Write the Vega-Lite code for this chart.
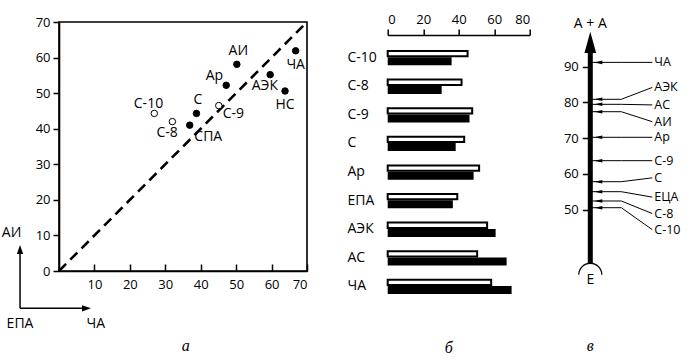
{
  "$schema": "https://vega.github.io/schema/vega-lite/v6.json",
  "background": "white",
  "padding": {"left": 0, "top": 13, "right": 0, "bottom": 0},
  "bounds": "flush",
  "spacing": 80.7,
  "config": {
    "view": {"stroke": null},
    "font": "Open Sans",
    "axis": {"labelFont": "Open Sans", "labelFontSize": 13, "labelColor": "black", "domainColor": "black", "tickColor": "black", "domainWidth": 1.6, "tickWidth": 1.5, "grid": false, "labelOverlap": false, "labelBound": false},
    "text": {"font": "Open Sans", "fontSize": 14, "color": "black"}
  },
  "datasets": {
    "pts": [
      {"name": "АИ", "x": 50.2, "y": 58.1, "kind": "filled", "pos": "top"},
      {"name": "ЧА", "x": 66.8, "y": 61.9, "kind": "filled", "pos": "bottom"},
      {"name": "Ар", "x": 47.2, "y": 52.2, "kind": "filled", "pos": "topleft"},
      {"name": "АЭК", "x": 59.6, "y": 55.2, "kind": "filled", "pos": "bottomleft"},
      {"name": "НС", "x": 63.8, "y": 50.6, "kind": "filled", "pos": "bottom"},
      {"name": "С", "x": 38.8, "y": 44.3, "kind": "filled", "pos": "top"},
      {"name": "С-9", "x": 45.1, "y": 46.5, "kind": "open", "pos": "right"},
      {"name": "С-10", "x": 26.9, "y": 44.3, "kind": "open", "pos": "topleft"},
      {"name": "С-8", "x": 32.0, "y": 42.0, "kind": "open", "pos": "bottomleft"},
      {"name": "СПА", "x": 36.9, "y": 41.0, "kind": "filled", "pos": "bottomright"}
    ],
    "diag": [{"x": 0, "y": 0}, {"x": 70, "y": 70}],
    "arrows": [
      {"x": -11, "y": -10.5, "x2": -11, "y2": 6.0},
      {"x": -11, "y": -10.5, "x2": 7.8, "y2": -10.5}
    ],
    "heads": [
      {"x": -11, "y": 6.04, "dir": "up"},
      {"x": 7.76, "y": -10.5, "dir": "right"}
    ],
    "corner": [
      {"t": "АИ", "x": -13.4, "y": 10.6},
      {"t": "ЕПА", "x": -11, "y": -14.9},
      {"t": "ЧА", "x": 10.4, "y": -14.9}
    ],
    "capA": [{"t": "а", "x": 35.8, "y": -21.1}],
    "bars": [
      {"name": "С-10", "white": 45.0, "black": 36.0},
      {"name": "С-8", "white": 41.6, "black": 30.4},
      {"name": "С-9", "white": 47.6, "black": 46.1},
      {"name": "С", "white": 43.1, "black": 38.3},
      {"name": "Ар", "white": 51.5, "black": 48.4},
      {"name": "ЕПА", "white": 39.2, "black": 36.7},
      {"name": "АЭК", "white": 56.0, "black": 60.8},
      {"name": "АС", "white": 50.4, "black": 67.0},
      {"name": "ЧА", "white": 58.3, "black": 69.8}
    ],
    "leaders": [
      {"name": "ЧА", "v": 91.2, "lv": 91.2},
      {"name": "АЭК", "v": 80.87, "lv": 84.2},
      {"name": "АС", "v": 79.47, "lv": 79.3},
      {"name": "АИ", "v": 77.4, "lv": 74.6},
      {"name": "Ар", "v": 70.24, "lv": 70.24},
      {"name": "С-9", "v": 63.7, "lv": 63.7},
      {"name": "С", "v": 57.82, "lv": 58.9},
      {"name": "ЕЦА", "v": 55.02, "lv": 53.5},
      {"name": "С-8", "v": 52.42, "lv": 48.9},
      {"name": "С-10", "v": 50.54, "lv": 44.4}
    ],
    "cmarks": [
      {"t": "А + А", "x": 0, "y": 101.94},
      {"t": "Е", "x": 0, "y": 30.31}
    ],
    "capC": [{"t": "в", "x": 0, "y": 11.85}]
  },
  "hconcat": [
    {
      "width": 248,
      "height": 249,
      "view": {"stroke": "black", "strokeWidth": 1.6},
      "layer": [
        {
          "data": {"name": "diag"},
          "mark": {"type": "line", "color": "black", "strokeWidth": 2.6, "strokeDash": [10, 6]},
          "encoding": {
            "x": {"field": "x", "type": "quantitative", "scale": {"domain": [0, 70], "nice": false, "zero": false},
                  "axis": {"orient": "bottom", "values": [10, 20, 30, 40, 50, 60, 70], "tickCount": 20, "tickSize": -7, "labelPadding": 14, "labelOverlap": false, "title": null}},
            "y": {"field": "y", "type": "quantitative", "scale": {"domain": [0, 70], "nice": false, "zero": false},
                  "axis": {"values": [0, 10, 20, 30, 40, 50, 60, 70], "tickCount": 20, "tickSize": 6, "labelPadding": 3, "labelOverlap": false, "title": null}}
          }
        },
        {
          "data": {"name": "pts"},
          "mark": {"type": "point", "filled": true, "size": 42, "stroke": "black", "strokeWidth": 1, "opacity": 1},
          "encoding": {
            "x": {"field": "x", "type": "quantitative"},
            "y": {"field": "y", "type": "quantitative"},
            "fill": {"field": "kind", "type": "nominal", "scale": {"domain": ["filled", "open"], "range": ["black", "white"]}, "legend": null}
          }
        },
        {
          "data": {"name": "pts"},
          "transform": [{"filter": "datum.pos === 'top'"}],
          "mark": {"type": "text", "dx": 1.5, "dy": -13, "align": "center", "baseline": "middle"},
          "encoding": {"x": {"field": "x", "type": "quantitative"}, "y": {"field": "y", "type": "quantitative"}, "text": {"field": "name"}}
        },
        {
          "data": {"name": "pts"},
          "transform": [{"filter": "datum.pos === 'bottom'"}],
          "mark": {"type": "text", "dx": 0, "dy": 14, "align": "center", "baseline": "middle"},
          "encoding": {"x": {"field": "x", "type": "quantitative"}, "y": {"field": "y", "type": "quantitative"}, "text": {"field": "name"}}
        },
        {
          "data": {"name": "pts"},
          "transform": [{"filter": "datum.pos === 'bottomleft'"}],
          "mark": {"type": "text", "dx": -5.3, "dy": 11.5, "align": "center", "baseline": "middle"},
          "encoding": {"x": {"field": "x", "type": "quantitative"}, "y": {"field": "y", "type": "quantitative"}, "text": {"field": "name"}}
        },
        {
          "data": {"name": "pts"},
          "transform": [{"filter": "datum.pos === 'topleft'"}],
          "mark": {"type": "text", "dx": -20.5, "dy": -9.6, "align": "left", "baseline": "middle"},
          "encoding": {"x": {"field": "x", "type": "quantitative"}, "y": {"field": "y", "type": "quantitative"}, "text": {"field": "name"}}
        },
        {
          "data": {"name": "pts"},
          "transform": [{"filter": "datum.pos === 'right'"}],
          "mark": {"type": "text", "dx": 4, "dy": 8, "align": "left", "baseline": "middle"},
          "encoding": {"x": {"field": "x", "type": "quantitative"}, "y": {"field": "y", "type": "quantitative"}, "text": {"field": "name"}}
        },
        {
          "data": {"name": "pts"},
          "transform": [{"filter": "datum.pos === 'bottomright'"}],
          "mark": {"type": "text", "dx": 4.6, "dy": 12.3, "align": "left", "baseline": "middle"},
          "encoding": {"x": {"field": "x", "type": "quantitative"}, "y": {"field": "y", "type": "quantitative"}, "text": {"field": "name"}}
        },
        {
          "data": {"name": "arrows"},
          "mark": {"type": "rule", "color": "black", "strokeWidth": 1.5},
          "encoding": {
            "x": {"field": "x", "type": "quantitative"}, "y": {"field": "y", "type": "quantitative"},
            "x2": {"field": "x2"}, "y2": {"field": "y2"}
          }
        },
        {
          "data": {"name": "heads"},
          "mark": {"type": "point", "filled": true, "size": 81, "color": "black", "opacity": 1},
          "encoding": {
            "x": {"field": "x", "type": "quantitative"}, "y": {"field": "y", "type": "quantitative"},
            "shape": {"field": "dir", "type": "nominal", "scale": {"domain": ["up", "right"], "range": ["M0,-1L0.7,1L-0.7,1Z", "M1,0L-1,0.7L-1,-0.7Z"]}, "legend": null}
          }
        },
        {
          "data": {"name": "corner"},
          "mark": {"type": "text", "align": "center", "baseline": "middle"},
          "encoding": {"x": {"field": "x", "type": "quantitative"}, "y": {"field": "y", "type": "quantitative"}, "text": {"field": "t"}}
        },
        {
          "data": {"name": "capA"},
          "mark": {"type": "text", "align": "center", "baseline": "middle", "font": "Liberation Serif", "fontStyle": "italic", "fontSize": 16},
          "encoding": {"x": {"field": "x", "type": "quantitative"}, "y": {"field": "y", "type": "quantitative"}, "text": {"field": "t"}}
        }
      ]
    },
    {
      "bounds": "flush",
      "spacing": 60.6,
      "hconcat": [
        {
          "width": 142,
          "height": 300.1,
          "title": {"text": "б", "orient": "bottom", "anchor": "middle", "frame": "group", "offset": 18, "dx": -10, "font": "Liberation Serif", "fontStyle": "italic", "fontSize": 16, "fontWeight": "normal", "color": "black"},
          "data": {"name": "bars"},
          "layer": [
            {
              "mark": {"type": "bar", "fill": "black", "height": 8, "yOffset": 3.65},
              "encoding": {
                "y": {"field": "name", "type": "nominal", "sort": null, "scale": {"paddingInner": 0, "paddingOuter": 0.7465},
                      "axis": {"domain": false, "ticks": false, "tickSize": 0, "labelAlign": "left", "labelPadding": 40.7, "labelFontSize": 14, "labelBaseline": "middle", "labelOverlap": false, "title": null}},
                "x": {"field": "black", "type": "quantitative", "scale": {"domain": [0, 80], "nice": false, "zero": false},
                      "axis": {"orient": "top", "offset": -13, "values": [0, 20, 40, 60, 80], "tickCount": 20, "tickSize": 6, "labelPadding": 3, "labelOverlap": false, "title": null}}
              }
            },
            {
              "mark": {"type": "bar", "fill": "white", "stroke": "black", "strokeWidth": 2, "height": 5.3, "yOffset": -4},
              "encoding": {
                "y": {"field": "name", "type": "nominal", "sort": null},
                "x": {"field": "white", "type": "quantitative"}
              }
            }
          ]
        },
        {
          "width": 100,
          "height": 277,
          "layer": [
            {
              "data": {"name": "leaders"},
              "mark": {"type": "rule", "color": "black", "strokeWidth": 1},
              "encoding": {
                "x": {"datum": 0, "type": "quantitative", "scale": {"domain": [0, 100], "nice": false, "zero": false}, "axis": null},
                "x2": {"datum": 31},
                "y": {"field": "v", "type": "quantitative", "scale": {"domain": [25, 102.5], "nice": false, "zero": false},
                      "axis": {"values": [50, 60, 70, 80, 90], "tickCount": 20, "domain": false, "tickSize": 8, "labelPadding": 4, "labelOverlap": false, "title": null}}
              }
            },
            {
              "data": {"name": "leaders"},
              "mark": {"type": "rule", "color": "black", "strokeWidth": 1},
              "encoding": {
                "x": {"datum": 31, "type": "quantitative"},
                "x2": {"datum": 62},
                "y": {"field": "v", "type": "quantitative"},
                "y2": {"field": "lv"}
              }
            },
            {
              "data": {"name": "leaders"},
              "mark": {"type": "point", "filled": true, "color": "black", "opacity": 1, "size": 64, "shape": "M-1,0L1,-0.45L1,0.45Z"},
              "encoding": {
                "x": {"datum": 8, "type": "quantitative"},
                "y": {"field": "v", "type": "quantitative"}
              }
            },
            {
              "data": {"name": "leaders"},
              "mark": {"type": "text", "align": "left", "baseline": "middle", "fontSize": 12.5},
              "encoding": {
                "x": {"datum": 64, "type": "quantitative"},
                "y": {"field": "lv", "type": "quantitative"},
                "text": {"field": "name"}
              }
            },
            {
              "data": {"values": [{}]},
              "mark": {"type": "rule", "color": "black", "strokeWidth": 5},
              "encoding": {
                "x": {"datum": 0, "type": "quantitative"},
                "y": {"datum": 35.0, "type": "quantitative"},
                "y2": {"datum": 94}
              }
            },
            {
              "data": {"values": [{}]},
              "mark": {"type": "point", "filled": true, "color": "black", "opacity": 1, "size": 454, "shape": "M0,-1L0.55,1L-0.55,1Z"},
              "encoding": {
                "x": {"datum": 0, "type": "quantitative"},
                "y": {"datum": 96.81, "type": "quantitative"}
              }
            },
            {
              "data": {"values": [{}]},
              "mark": {"type": "point", "filled": false, "stroke": "black", "strokeWidth": 1.3, "opacity": 1, "size": 529, "shape": "M-1,1A1,1 0 0 1 1,1"},
              "encoding": {
                "x": {"datum": 0, "type": "quantitative"},
                "y": {"datum": 35.0, "type": "quantitative"}
              }
            },
            {
              "data": {"name": "cmarks"},
              "mark": {"type": "text", "align": "center", "baseline": "middle"},
              "encoding": {"x": {"field": "x", "type": "quantitative"}, "y": {"field": "y", "type": "quantitative"}, "text": {"field": "t"}}
            },
            {
              "data": {"name": "capC"},
              "mark": {"type": "text", "align": "center", "baseline": "middle", "font": "Liberation Serif", "fontStyle": "italic", "fontSize": 16},
              "encoding": {"x": {"field": "x", "type": "quantitative"}, "y": {"field": "y", "type": "quantitative"}, "text": {"field": "t"}}
            }
          ]
        }
      ]
    }
  ]
}
